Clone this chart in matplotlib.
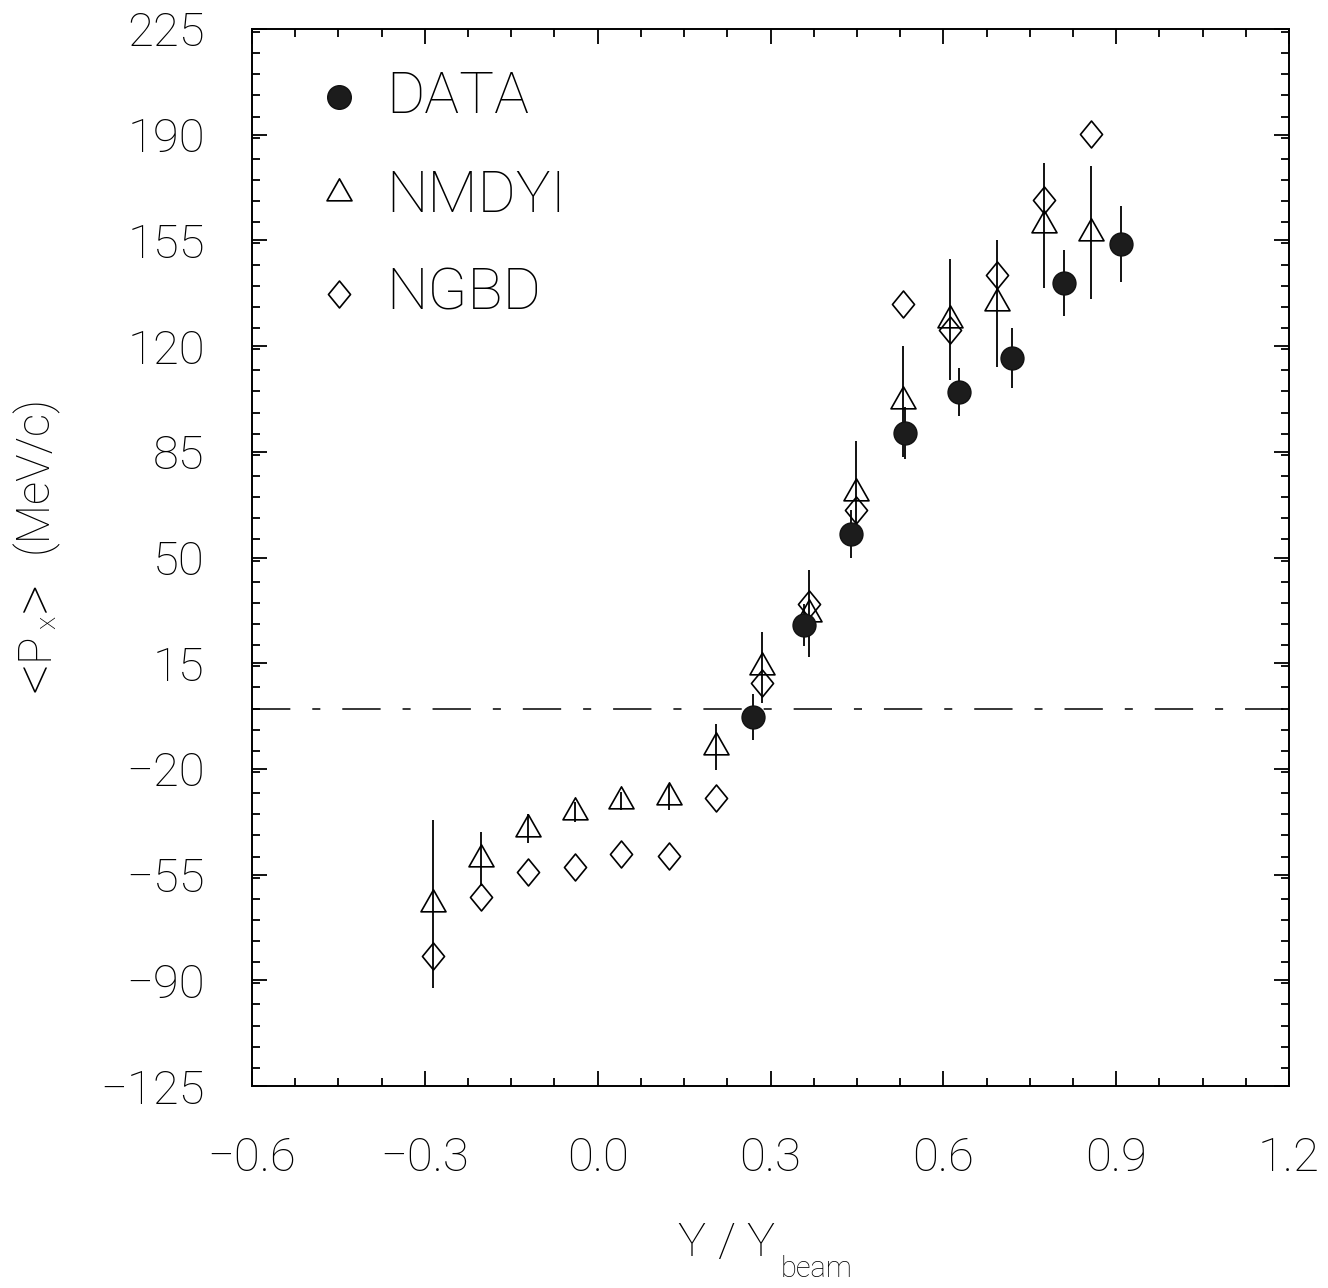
import numpy as np
import matplotlib
matplotlib.use("Agg")
import matplotlib.pyplot as plt
from matplotlib.path import Path
from matplotlib.ticker import MultipleLocator, FuncFormatter

# ---- data ----
data_x = [0.270, 0.358, 0.440, 0.534, 0.627, 0.719, 0.810, 0.909]
data_y = [-2.8, 27.6, 57.8, 91.2, 104.8, 116.1, 140.9, 153.8]
data_err = [7.5, 7.0, 8.0, 8.5, 8.0, 10.0, 11.0, 12.5]

nmdyi_x = [-0.286, -0.203, -0.121, -0.040, 0.041, 0.123, 0.205, 0.285,
           0.3675, 0.449, 0.530, 0.611, 0.693, 0.774, 0.857]
nmdyi_y = [-64.7, -49.8, -39.8, -34.3, -30.7, -29.3, -12.8, 13.6,
           31.4, 71.3, 101.7, 128.7, 134.2, 160.0, 157.6]
nmdyi_err = [27.8, 9.0, 4.8, 3.2, 3.0, 4.3, 7.7, 11.9,
             14.3, 17.3, 18.3, 20.0, 21.0, 20.6, 22.0]

ngbd_x = [-0.286, -0.203, -0.121, -0.040, 0.041, 0.123, 0.205, 0.285,
          0.3675, 0.449, 0.530, 0.611, 0.693, 0.774, 0.857]
ngbd_y = [-82.0, -62.4, -54.0, -52.5, -48.3, -48.8, -29.5, 8.3,
          34.5, 65.7, 134.0, 125.2, 143.4, 168.4, 190.1]

labels = ["DATA", "NMDYI", "NGBD"]
xticks = np.arange(-0.6, 1.21, 0.3)
yticks = np.arange(-125, 226, 35)

plt.rcParams["font.family"] = ["Roboto", "DejaVu Sans"]
plt.rcParams["font.weight"] = "light"
plt.rcParams["lines.scale_dashes"] = False

# hollow markers: triangle centred on its centroid, tall diamond
tri = Path([(0, 14.67), (-12.5, -7.33), (12.5, -7.33), (0, 14.67)],
           [Path.MOVETO, Path.LINETO, Path.LINETO, Path.CLOSEPOLY])
dia = Path([(0, 1), (0.82, 0), (0, -1), (-0.82, 0), (0, 1)],
           [Path.MOVETO, Path.LINETO, Path.LINETO, Path.LINETO, Path.CLOSEPOLY])

fig = plt.figure(figsize=(13.28, 12.88), dpi=100)
ax = fig.add_axes([0.1898, 0.1568, 0.7808, 0.8207])

ax.axhline(0, color="k", lw=1.1, dashes=(27.6, 15.8, 5.8, 15.8), zorder=1)

ax.errorbar(nmdyi_x, nmdyi_y, yerr=nmdyi_err, fmt="none", ecolor="k",
            elinewidth=1.3, capsize=0, zorder=2)
ax.errorbar(data_x, data_y, yerr=data_err, fmt="none", ecolor="k",
            elinewidth=1.3, capsize=0, zorder=2)

ax.plot(nmdyi_x, nmdyi_y, ls="none", marker=tri, ms=21.1, mfc="none",
        mec="k", mew=1.2, zorder=3)
ax.plot(ngbd_x, ngbd_y, ls="none", marker=dia, ms=19.4, mfc="none",
        mec="k", mew=1.2, zorder=3)
ax.plot(data_x, data_y, ls="none", marker="o", ms=16.5, mfc="#1c1c1c",
        mec="#111111", mew=1.0, zorder=4)

ax.set_xlim(-0.6, 1.2)
ax.set_ylim(-125, 225)
ax.set_xticks(xticks)
ax.set_yticks(yticks)
ax.xaxis.set_minor_locator(MultipleLocator(0.075))
ax.yaxis.set_minor_locator(MultipleLocator(7))
ax.xaxis.set_major_formatter(FuncFormatter(lambda v, p: ("%.1f" % v).replace("-", "\u2212")))
ax.yaxis.set_major_formatter(FuncFormatter(lambda v, p: ("%d" % round(v)).replace("-", "\u2212")))
ax.tick_params(which="both", direction="in", top=True, right=True, width=1.3,
               labelsize=34)
ax.tick_params(which="major", length=11)
ax.tick_params(which="minor", length=5.8)
ax.tick_params(axis="x", pad=36)
ax.tick_params(axis="y", pad=34)
for s in ax.spines.values():
    s.set_linewidth(1.4)

# legend drawn by hand
leg_y = [0.9357, 0.8477, 0.7493]
leg_base = [0.9205, 0.8269, 0.7342]
ax.plot(0.0839, leg_y[0], transform=ax.transAxes, marker="o", ms=17,
        mfc="#1c1c1c", mec="#111111", ls="none", clip_on=False)
ax.plot(0.0839, leg_y[1] - 0.003, transform=ax.transAxes, marker=tri, ms=21.1,
        mfc="none", mec="k", mew=1.2, ls="none", clip_on=False)
ax.plot(0.0839, leg_y[2], transform=ax.transAxes, marker=dia, ms=19.4,
        mfc="none", mec="k", mew=1.2, ls="none", clip_on=False)
for lab, yb in zip(labels, leg_base):
    ax.text(0.129, yb, lab, transform=ax.transAxes, fontsize=42,
            ha="left", va="baseline")

# axis labels built from pieces so the spacing and low subscripts match
W, H = 1328.0, 1288.0
for txt, px in [("Y", 677), ("/", 717), ("Y", 746)]:
    fig.text(px / W, 1 - 1256 / H, txt, fontsize=34, ha="left", va="baseline")
fig.text(781 / W, 1 - 1277 / H, "beam", fontsize=21, ha="left", va="baseline")

ylab = [("<", 53, 692, 44), ("P", 47, 660, 33), ("x", 55, 629, 20),
        (">", 53, 612, 44), ("(MeV/c)", 47, 553, 33)]
for txt, bx, sy, fs in ylab:
    fig.text(bx / W, 1 - sy / H, txt, fontsize=fs, rotation=90,
             rotation_mode="anchor", ha="left", va="baseline")

fig.savefig("out.png", dpi=100)
